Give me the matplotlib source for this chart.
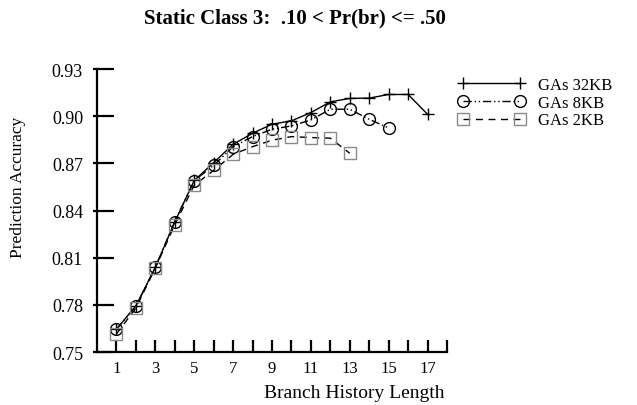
import matplotlib.pyplot as plt

# ---- data ----
hist_len = list(range(1, 18))
gas_32kb = [0.7645, 0.7794, 0.8038, 0.8328, 0.8591, 0.8704, 0.8821, 0.8891, 0.8949,
            0.8970, 0.9023, 0.9091, 0.9113, 0.9115, 0.9138, 0.9138, 0.9012]
gas_8kb = [0.7645, 0.7790, 0.8040, 0.8330, 0.8590, 0.8687, 0.8806, 0.8870, 0.8917,
           0.8938, 0.8976, 0.9044, 0.9044, 0.8980, 0.8925]
gas_2kb = [0.7615, 0.7779, 0.8034, 0.8310, 0.8561, 0.8655, 0.8757, 0.8806, 0.8847,
           0.8870, 0.8864, 0.8860, 0.8764]

xticks = list(range(1, 19))
xticklabels = [str(v) if v % 2 == 1 else "" for v in xticks]
yticks = [0.75, 0.78, 0.81, 0.84, 0.87, 0.90, 0.93]

plt.rcParams['font.family'] = ['Liberation Serif', 'DejaVu Serif']

W, H = 637, 406
fig = plt.figure(figsize=(W / 100, H / 100), dpi=100)
ax = fig.add_axes([97 / W, 1 - 353 / H, 350 / W, 283 / H])

ax.plot(hist_len, gas_32kb, color='black', lw=1.0, ls='-',
        marker='+', ms=8, mew=1.0, label='GAs 32KB')
ax.plot(hist_len[:len(gas_8kb)], gas_8kb, color='black', lw=1.0,
        ls=(0, (6, 2, 1, 2, 1, 2)), marker='o', ms=8.5, mfc='none', mew=1.0,
        label='GAs 8KB')
ax.plot(hist_len[:len(gas_2kb)], gas_2kb, color='black', lw=1.0, ls=(0, (5, 4)),
        marker='s', ms=8.5, mfc='none', mec='#8a8a8a', mew=1.0, label='GAs 2KB')

ax.set_xlim(0, 18)
ax.set_ylim(0.75, 0.93)
ax.set_xticks(xticks)
ax.set_xticklabels(xticklabels)
ax.set_yticks(yticks)
ax.set_yticklabels([f"{v:.2f}" for v in yticks])
# short outward stubs on the y ticks
ax.yaxis.remove_overlapping_locs = False
ax.set_yticks(yticks, minor=True)

for s in ['top', 'right']:
    ax.spines[s].set_visible(False)
for s in ['left', 'bottom']:
    ax.spines[s].set_linewidth(1.6)

ax.tick_params(axis='x', direction='in', length=9, width=1.6, labelsize=12, pad=6)
ax.tick_params(axis='y', which='major', direction='in', length=12, width=1.6,
               labelsize=13, pad=10)
ax.tick_params(axis='y', which='minor', direction='out', length=3, width=1.6,
               labelleft=False)

fig.text(445 / W, 1 - 398 / H, 'Branch History Length', ha='right',
         va='baseline', fontsize=14)
fig.text(18 / W, 1 - 187 / H, 'Prediction Accuracy', ha='center', va='center',
         rotation=90, fontsize=12.5)
fig.text(295 / W, 1 - 18 / H, 'Static Class 3:  .10 < Pr(br) <= .50',
         ha='center', va='center', fontsize=15, fontweight='bold')

fig.legend(loc='upper left', bbox_to_anchor=(458 / W, 1 - 78 / H),
           frameon=False, numpoints=2, handlelength=4.0, fontsize=12,
           labelspacing=0.1, handletextpad=0.8, borderaxespad=0, borderpad=0)

fig.savefig('out.png', dpi=100)
